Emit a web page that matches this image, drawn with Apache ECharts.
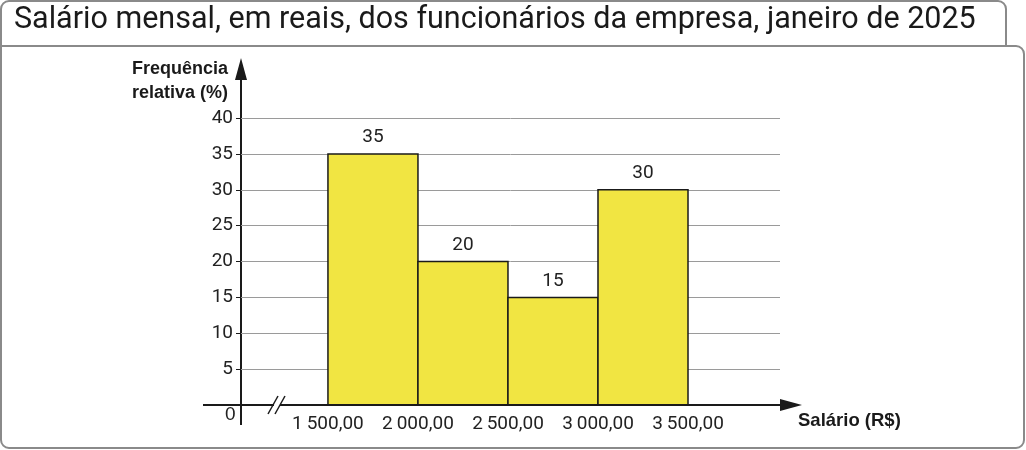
<!DOCTYPE html>
<html><head><meta charset="utf-8">
<script src="https://cdn.jsdelivr.net/npm/echarts@6/dist/echarts.min.js"></script>
<style>html,body{margin:0;padding:0;background:#fff}#c{width:1026px;height:450px}</style>
</head><body><div id="c"></div>
<script>
const binStarts = [1500, 2000, 2500, 3000];
const binEnds = [2000, 2500, 3000, 3500];
const freq = [35, 20, 15, 30];
const xTicks = [1500, 2000, 2500, 3000, 3500];
const yTicks = [5, 10, 15, 20, 25, 30, 35, 40];
const title = 'Salário mensal, em reais, dos funcionários da empresa, janeiro de 2025';

const data = binStarts.map((s, i) => [s, binEnds[i], freq[i]]);
const fmt = v => { const s = String(v); return s.slice(0, s.length - 3) + '\u2009' + s.slice(-3) + ',00'; };
const chart = echarts.init(document.getElementById('c'));
const axisColor = '#1a1a1a';
chart.setOption({
  animation: false,
  textStyle: { fontFamily: 'Roboto' },
  grid: { left: 241, top: 118, width: 539, bottom: 45 },
  xAxis: {
    type: 'value', min: 1017, max: 4011,
    axisLine: { show: false }, splitLine: { show: false }, axisTick: { show: false },
    axisLabel: { customValues: xTicks, formatter: fmt, fontSize: 19, color: '#222', margin: 10, fontFamily: 'Roboto' }
  },
  yAxis: {
    type: 'value', min: 0, max: 40, interval: 5,
    axisLine: { show: false },
    axisTick: { show: true, customValues: yTicks, length: 5, lineStyle: { color: axisColor } },
    splitLine: { show: true, lineStyle: { color: '#9a9a9a', width: 1 } },
    axisLabel: { customValues: yTicks, fontSize: 19, color: '#222', margin: 8 }
  },
  series: [{
    type: 'custom',
    data: data,
    encode: { x: [0, 1], y: 2 },
    renderItem: function (params, api) {
      const p0 = api.coord([api.value(0), api.value(2)]);
      const p1 = api.coord([api.value(1), 0]);
      return {
        type: 'rect',
        shape: { x: p0[0], y: p0[1], width: p1[0] - p0[0], height: p1[1] - p0[1] },
        style: { fill: '#f1e542', stroke: '#1a1a1a', lineWidth: 1.5 },
        textContent: { style: { text: String(api.value(2)), fontSize: 19, fill: '#222', fontFamily: 'Roboto' } },
        textConfig: { position: 'top', distance: 6 }
      };
    }
  }],
  graphic: [
    { type: 'rect', z: -10, shape: { x: 1, y: 46, width: 1023, height: 402, r: [0, 8, 8, 8] }, style: { fill: '#fff', stroke: '#8a8a8a', lineWidth: 2 } },
    { type: 'rect', z: -9, shape: { x: 1, y: 1, width: 1005, height: 45, r: [8, 8, 0, 0] }, style: { fill: '#fff', stroke: '#8a8a8a', lineWidth: 2 } },
    { type: 'text', x: 14, y: 5, style: { text: title, fontSize: 30.5, fontFamily: 'Roboto', fill: '#1a1a1a' } },
    { type: 'text', x: 228, y: 57, style: { text: 'Frequência\nrelativa (%)', fontSize: 18, fontWeight: 'bold', fill: '#1a1a1a', align: 'right', lineHeight: 24 } },
    { type: 'text', x: 798, y: 411, style: { text: 'Salário (R$)', fontSize: 18.5, fontWeight: 'bold', fill: '#1a1a1a' } },
    { type: 'text', x: 225, y: 405, style: { text: '0', fontSize: 19, fill: '#222' } },
    { type: 'line', shape: { x1: 241, y1: 425, x2: 241, y2: 72 }, style: { stroke: axisColor, lineWidth: 2 } },
    { type: 'polygon', shape: { points: [[241, 58], [235, 80], [247, 80]] }, style: { fill: axisColor } },
    { type: 'line', shape: { x1: 203, y1: 405, x2: 780, y2: 405 }, style: { stroke: axisColor, lineWidth: 2 }, z: 10 },
    { type: 'polygon', shape: { points: [[802, 405], [780, 399], [780, 411]] }, style: { fill: axisColor }, z: 10 },
    { type: 'rect', shape: { x: 274, y: 400, width: 6, height: 10 }, style: { fill: '#fff' }, z: 11 },
    { type: 'line', shape: { x1: 268, y1: 414, x2: 278, y2: 396 }, style: { stroke: axisColor, lineWidth: 1.5 }, z: 12 },
    { type: 'line', shape: { x1: 275, y1: 414, x2: 285, y2: 396 }, style: { stroke: axisColor, lineWidth: 1.5 }, z: 12 }
  ]
});
</script></body></html>
